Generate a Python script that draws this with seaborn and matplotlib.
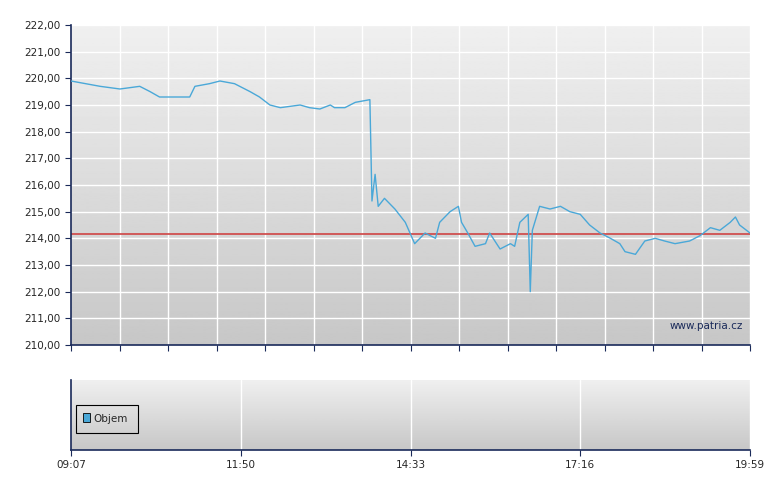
import matplotlib
matplotlib.use("Agg")
import matplotlib.pyplot as plt
import numpy as np
import seaborn as sns

# minutes after 09:07 and price
minutes = [0, 28, 47, 66, 76, 85, 105, 114, 119, 133, 143, 157, 172, 181, 191, 201, 220, 229,
           239, 249, 253, 263, 273, 287, 289, 292, 295, 301, 311, 321, 330, 340, 350, 354,
           364, 372, 375, 381, 388, 398, 402, 412, 422, 426, 431, 439, 441, 443, 450, 460,
           470, 479, 489, 498, 508, 518, 527, 532, 542, 551, 561, 570, 580, 594, 604, 614,
           623, 633, 638, 642, 652]
price = [219.9, 219.7, 219.6, 219.7, 219.5, 219.3, 219.3, 219.3, 219.7, 219.8, 219.9, 219.8,
         219.5, 219.3, 219.0, 218.9, 219.0, 218.9, 218.85, 219.0, 218.9, 218.9, 219.1, 219.2,
         215.4, 216.4, 215.2, 215.5, 215.1, 214.6, 213.8, 214.2, 214.0, 214.6, 215.0, 215.2,
         214.6, 214.2, 213.7, 213.8, 214.2, 213.6, 213.8, 213.7, 214.6, 214.9, 212.0, 214.3,
         215.2, 215.1, 215.2, 215.0, 214.9, 214.5, 214.2, 214.0, 213.8, 213.5, 213.4, 213.9,
         214.0, 213.9, 213.8, 213.9, 214.1, 214.4, 214.3, 214.6, 214.8, 214.5, 214.2]
ref_price = 214.15
y_ticks = np.arange(210, 223, 1)
bottom_labels = ["09:07", "11:50", "14:33", "17:16", "19:59"]

sns.set_style("white")
plt.rcParams["font.family"] = ["DejaVu Sans"]

fig = plt.figure(figsize=(7.8, 4.9), dpi=100)
ax = fig.add_axes([71 / 780, 145 / 490, 679 / 780, 320 / 490])
ax2 = fig.add_axes([71 / 780, 40 / 490, 679 / 780, 70 / 490])

grad = np.linspace(0.94, 0.78, 256).reshape(-1, 1)
for a in (ax, ax2):
    a.imshow(grad, cmap="gray", vmin=0, vmax=1, aspect="auto",
             extent=[0, 1, 0, 1], transform=a.transAxes, zorder=0)
    for s in ("top", "right"):
        a.spines[s].set_visible(False)
    for s in ("left", "bottom"):
        a.spines[s].set_color("#1a2a5a")
        a.spines[s].set_linewidth(1.2)

total = 652
xt = np.linspace(0, total, 15)
ax.set_xlim(0, total)
ax.set_ylim(210, 222)
for v in xt[1:]:
    ax.axvline(v, color="white", lw=1, zorder=1)
for v in y_ticks[1:]:
    ax.axhline(v, color="white", lw=1, zorder=1)
sns.lineplot(x=minutes, y=price, ax=ax, color="#4aa8d8", lw=1, zorder=3)
ax.axhline(ref_price, color="#d05050", lw=1.3, zorder=2)
ax.set_xticks(xt)
ax.set_xticklabels([])
ax.set_yticks(y_ticks)
ax.set_yticklabels([f"{v:.2f}".replace(".", ",") for v in y_ticks], fontsize=7.5)
ax.tick_params(axis="both", length=4, color="#1a2a5a", direction="out", left=True, bottom=True)
ax.text(0.99, 0.05, "www.patria.cz", transform=ax.transAxes, ha="right", fontsize=7.5,
        color="#1a2a5a", zorder=4)

bt = np.linspace(0, total, 5)
ax2.set_xlim(0, total)
ax2.set_ylim(0, 1)
for v in bt[1:]:
    ax2.axvline(v, color="white", lw=1, zorder=1)
ax2.set_xticks(bt)
ax2.set_xticklabels(bottom_labels, fontsize=7.5)
ax2.set_yticks([])
ax2.tick_params(axis="x", length=4, color="#1a2a5a", bottom=True)
ax2.add_patch(plt.Rectangle((0.008, 0.25), 0.09, 0.4, transform=ax2.transAxes,
                            fill=False, ec="black", lw=0.8, zorder=3))
ax2.add_patch(plt.Rectangle((0.018, 0.4), 0.01, 0.13, transform=ax2.transAxes,
                            fc="#4aa8d8", ec="black", lw=0.6, zorder=3))
ax2.text(0.033, 0.45, "Objem", transform=ax2.transAxes, va="center", fontsize=7.5, zorder=3)

fig.savefig("out.png", dpi=100)
